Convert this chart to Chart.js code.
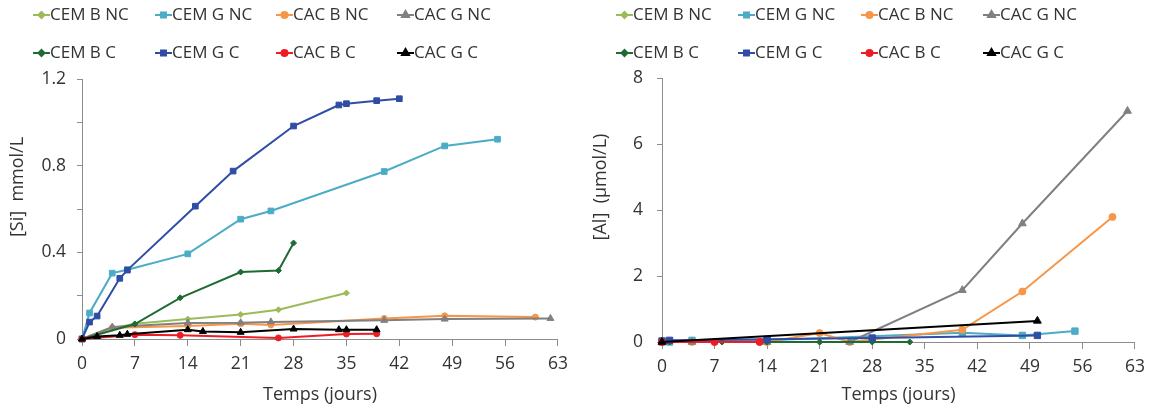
<!DOCTYPE html>
<html>
<head>
<meta charset="utf-8">
<script src="https://cdn.jsdelivr.net/npm/chart.js@4/dist/chart.umd.min.js"></script>
<style>
  html, body { margin: 0; padding: 0; background: #fff; }
  #wrap { position: relative; width: 1153px; height: 409px; }
  .box { position: absolute; top: 0; height: 409px; }
</style>
</head>
<body>
<div id="wrap">
  <div class="box" style="left:0;width:576px"><canvas id="siChart"></canvas></div>
  <div class="box" style="left:576px;width:577px"><canvas id="alChart"></canvas></div>
</div>
<script>
const seriesNames = ['CEM B NC', 'CEM G NC', 'CAC B NC', 'CAC G NC', 'CEM B C', 'CEM G C', 'CAC B C', 'CAC G C'];
const seriesColors = ['#9BBB59', '#4BACC6', '#F79646', '#808080', '#1E6B34', '#2F4DA5', '#EE1C25', '#000000'];
const seriesMarkers = ['rectRot', 'rect', 'circle', 'triangle', 'rectRot', 'rect', 'circle', 'triangle'];

const xTicks = [0, 7, 14, 21, 28, 35, 42, 49, 56, 63];

// [Si] mmol/L  (jours / valeurs)
const siCemBNCDays = [0, 4, 7, 14, 21, 26, 35];
const siCemBNCVals = [0, 0.05, 0.07, 0.092, 0.113, 0.135, 0.212];
const siCemGNCDays = [0, 1, 4, 6, 14, 21, 25, 40, 48, 55];
const siCemGNCVals = [0, 0.12, 0.304, 0.32, 0.393, 0.553, 0.591, 0.773, 0.891, 0.922];
const siCacBNCDays = [0, 4, 14, 21, 25, 40, 48, 60];
const siCacBNCVals = [0, 0.052, 0.06, 0.07, 0.065, 0.095, 0.107, 0.101];
const siCacGNCDays = [0, 4, 14, 21, 25, 40, 48, 62];
const siCacGNCVals = [0, 0.055, 0.074, 0.075, 0.079, 0.086, 0.092, 0.095];
const siCemBCDays = [0, 7, 13, 21, 26, 28];
const siCemBCVals = [0, 0.069, 0.19, 0.309, 0.316, 0.443];
const siCemGCDays = [0, 1, 2, 5, 6, 15, 20, 28, 34, 35, 39, 42];
const siCemGCVals = [0, 0.078, 0.106, 0.28, 0.318, 0.613, 0.775, 0.983, 1.08, 1.086, 1.10, 1.109];
const siCacBCDays = [0, 7, 13, 26, 35, 39];
const siCacBCVals = [0, 0.02, 0.017, 0.005, 0.023, 0.024];
const siCacGCDays = [0, 2, 5, 6, 14, 16, 21, 28, 34, 35, 39];
const siCacGCVals = [0, 0.012, 0.017, 0.022, 0.043, 0.035, 0.031, 0.046, 0.043, 0.043, 0.043];

// [Al] umol/L
const alCemBNCDays = [0, 4, 14, 21];
const alCemBNCVals = [0, 0, 0, 0];
const alCemGNCDays = [0, 1, 4, 14, 40, 48, 55];
const alCemGNCVals = [0, 0, 0.05, 0.05, 0.28, 0.2, 0.33];
const alCacBNCDays = [0, 4, 14, 21, 25, 40, 48, 60];
const alCacBNCVals = [0, 0, 0, 0.27, 0, 0.37, 1.53, 3.79];
const alCacGNCDays = [0, 4, 14, 25, 40, 48, 62];
const alCacGNCVals = [0, 0, 0, 0, 1.57, 3.59, 7.0];
const alCemBCDays = [0, 1, 8, 14, 21, 28, 33];
const alCemBCVals = [0, 0, 0, 0, 0, 0, 0];
const alCemGCDays = [0, 1, 14, 28, 50];
const alCemGCVals = [0.03, 0.05, 0.08, 0.12, 0.2];
const alCacBCDays = [0, 7, 13];
const alCacBCVals = [0, 0, 0];
const alCacGCDays = [0, 50];
const alCacGCVals = [0, 0.64];

const FONT = "'Open Sans', sans-serif";
const TXT = '#333333';
const AXE = '#8c8c8c';

const pts = (d, v) => d.map((x, i) => ({ x: x, y: v[i] }));

function makeSets(list, radii) {
  return list.map((p, i) => ({
    label: seriesNames[i],
    data: pts(p[0], p[1]),
    borderColor: seriesColors[i],
    backgroundColor: seriesColors[i],
    pointBackgroundColor: seriesColors[i],
    pointBorderColor: seriesColors[i],
    pointStyle: seriesMarkers[i],
    pointRadius: radii[i],
    pointBorderWidth: 1,
    borderWidth: 2,
    tension: 0,
    clip: false,
    order: -i
  }));
}

// legende en deux lignes + titre de l'axe y
const deco = {
  id: 'deco',
  afterDraw(chart, args, o) {
    const ctx = chart.ctx;
    ctx.save();
    chart.data.datasets.forEach((ds, i) => {
      const x0 = o.cols[i % 4], y = o.rows[Math.floor(i / 4)];
      ctx.strokeStyle = ds.borderColor;
      ctx.fillStyle = ds.borderColor;
      ctx.lineWidth = 2;
      ctx.beginPath();
      ctx.moveTo(x0, y);
      ctx.lineTo(x0 + 17, y);
      ctx.stroke();
      Chart.helpers.drawPoint(ctx, { pointStyle: ds.pointStyle, radius: o.mk[i], rotation: 0, borderWidth: 1 }, x0 + 8.5, y);
      ctx.fillStyle = TXT;
      ctx.font = '17px ' + FONT;
      ctx.textBaseline = 'middle';
      ctx.textAlign = 'left';
      ctx.fillText(ds.label, x0 + 17, y);
    });
    ctx.font = '18px ' + FONT;
    ctx.translate(o.titleX, o.titleY);
    ctx.rotate(-Math.PI / 2);
    ctx.textAlign = 'center';
    ctx.fillText(o.title, 0, 0);
    ctx.restore();
  }
};

function options(yMax, yStep, labelEvery, yWidth, yPad, xHeight, pad, legend) {
  return {
    responsive: true,
    maintainAspectRatio: false,
    animation: false,
    layout: { padding: pad },
    plugins: { legend: { display: false }, tooltip: { enabled: false }, deco: legend },
    scales: {
      x: {
        type: 'linear', min: 0, max: 63,
        afterBuildTicks: s => { s.ticks = xTicks.map(v => ({ value: v })); },
        ticks: { font: { family: FONT, size: 17.5 }, color: TXT, padding: 8, maxRotation: 0 },
        grid: { drawOnChartArea: false, tickLength: 7, color: AXE, lineWidth: 1 },
        border: { color: AXE, width: 1 },
        title: { display: true, text: 'Temps (jours)', font: { family: FONT, size: 18 }, color: TXT, padding: { top: 0, bottom: 3 } },
        afterFit: s => { s.height = xHeight; }
      },
      y: {
        min: 0, max: yMax,
        ticks: {
          stepSize: yStep, font: { family: FONT, size: 17.5 }, color: TXT, padding: yPad,
          callback: v => {
            const k = Math.round(v / yStep);
            if (k % labelEvery !== 0) return '';
            return v === 0 ? '0' : (Math.round(v * 10) / 10).toString();
          }
        },
        grid: { drawOnChartArea: false, tickLength: 5, color: AXE, lineWidth: 1 },
        border: { color: AXE, width: 1 },
        afterFit: s => { s.width = yWidth; }
      }
    }
  };
}

new Chart(document.getElementById('siChart'), {
  type: 'line',
  data: {
    datasets: makeSets([
      [siCemBNCDays, siCemBNCVals], [siCemGNCDays, siCemGNCVals], [siCacBNCDays, siCacBNCVals], [siCacGNCDays, siCacGNCVals],
      [siCemBCDays, siCemBCVals], [siCemGCDays, siCemGCVals], [siCacBCDays, siCacBCVals], [siCacGCDays, siCacGCVals]
    ], [3, 4, 3, 4, 3, 4, 3, 4])
  },
  plugins: [deco],
  options: options(1.2, 0.2, 2, 82, 11, 70, { top: 79, right: 18, left: 0, bottom: 0 }, {
    cols: [33, 155, 276, 397], rows: [15, 53], mk: [3, 3.5, 3, 4, 3, 3.5, 3, 4],
    title: '[Si]  mmol/L', titleX: 18, titleY: 187
  })
});

new Chart(document.getElementById('alChart'), {
  type: 'line',
  data: {
    datasets: makeSets([
      [alCemBNCDays, alCemBNCVals], [alCemGNCDays, alCemGNCVals], [alCacBNCDays, alCacBNCVals], [alCacGNCDays, alCacGNCVals],
      [alCemBCDays, alCemBCVals], [alCemGCDays, alCemGCVals], [alCacBCDays, alCacBCVals], [alCacGCDays, alCacGCVals]
    ], [3, 4.5, 3.5, 4.5, 3, 4.5, 3.5, 4.5])
  },
  plugins: [deco],
  options: options(8, 2, 1, 86, 14, 67, { top: 78, right: 13, left: 0, bottom: 0 }, {
    cols: [40, 162, 285, 407], rows: [15, 53], mk: [3, 3.5, 3, 4, 3, 3.5, 3, 4],
    title: '[Al]  (µmol/L)', titleX: 25, titleY: 187
  })
});
</script>
</body>
</html>
